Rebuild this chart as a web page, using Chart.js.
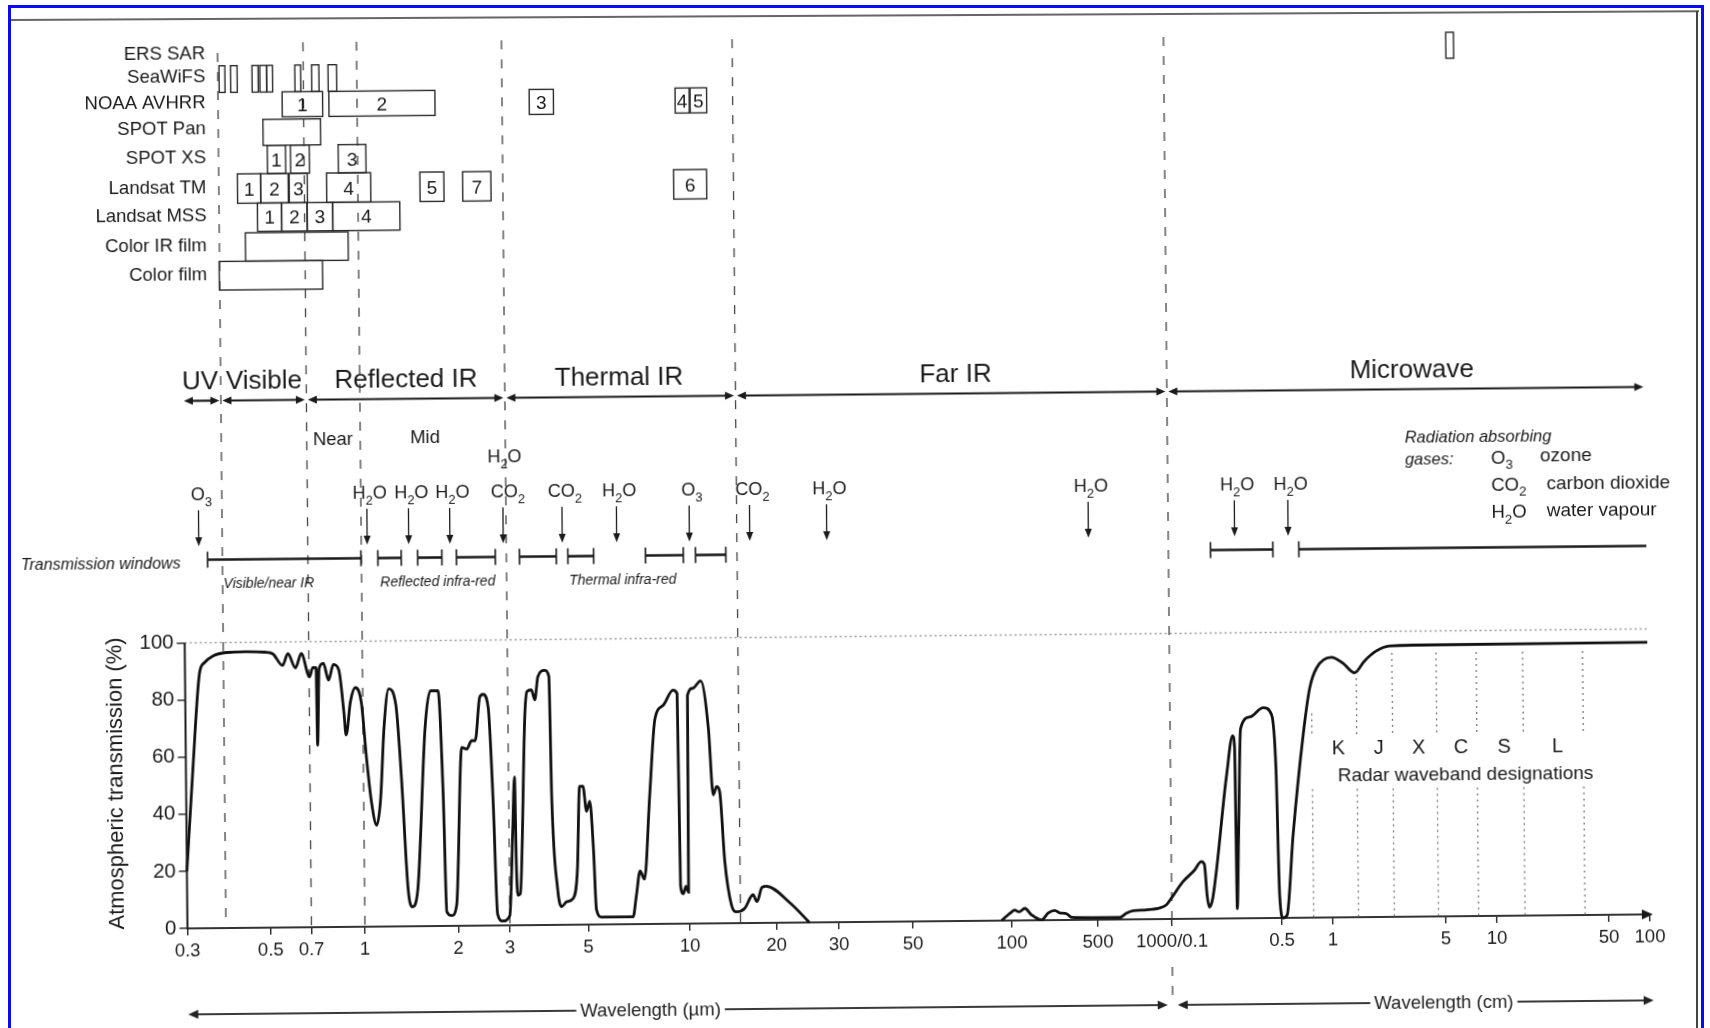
<!DOCTYPE html>
<html><head><meta charset="utf-8">
<script src="https://cdn.jsdelivr.net/npm/chart.js@4.4.1/dist/chart.umd.min.js"></script>
<style>
html,body{margin:0;padding:0;background:#fff;overflow:hidden;width:1710px;height:1028px;}
#wrap{position:absolute;left:0;top:0;width:1710px;height:1028px;transform:rotate(-0.55deg);transform-origin:855px 514px;}
#c{display:block;width:1710px;height:1028px;}
#frame{position:absolute;left:8px;top:5px;width:1690px;height:1100px;border:3px solid #0a0aef;}
#edgeTop{position:absolute;left:11px;top:19px;width:1688px;height:2px;background:#666;transform:rotate(-0.3deg);transform-origin:0 0;}
#edgeRight{position:absolute;left:1696px;top:11px;width:2px;height:1020px;background:#444;}
</style></head>
<body>
<div id="wrap"><canvas id="c" width="1710" height="1028"></canvas></div>
<div id="edgeTop"></div><div id="edgeRight"></div>
<div id="frame"></div>
<script>
// ---------- axis definition (wavelength in micrometres) ----------
const TICK_WL = [0.3,0.5,0.7,1,2,3,5,10,20,30,50,100,500,1000,5000,10000,50000,100000,500000,1000000];
const TICK_LABELS = ["0.3","0.5","0.7","1","2","3","5","10","20","30","50","100","500","1000/0.1","0.5","1","5","10","50","100"];
const AXIS_STOPS = [0,83.2,124,177.5,271,322.5,401,502.5,589,651.5,725.5,824.5,910.5,984.5,1094.5,1145.5,1258.5,1309.5,1421.5,1462.5];
const Y_TICKS = [0,20,40,60,80,100];

// ---------- atmospheric transmission curve ----------
const TRANS_WL = [0.300,0.313,0.328,0.338,0.356,0.387,0.438,0.490,0.520,0.563,0.589,0.626,0.658,0.702,0.718,0.734,0.738,0.749,0.771,0.797,0.824,0.854,0.881,0.893,0.921,0.952,0.991,
1.022,1.059,1.099,1.134,1.168,1.213,1.277,1.325,1.381,1.424,1.485,1.584,1.652,1.748,1.803,1.837,1.906,1.978,
2.080,2.164,2.251,2.314,2.406,2.470,2.569,2.655,2.725,2.835,3.000,
3.073,3.119,3.140,3.167,3.216,3.351,3.401,3.500,3.576,3.654,3.817,3.925,3.969,4.100,4.208,4.347,4.541,4.670,4.762,4.865,4.974,
5.086,5.202,5.288,5.471,6.790,6.949,7.141,7.355,7.662,7.983,8.448,9.045,9.300,9.404,9.579,9.756,9.930,9.980,
10.41,11.10,11.77,12.17,12.52,12.82,13.29,13.97,14.54,15.54,16.61,17.15,17.85,18.49,21.83,24.78,
50,
93.0,98.6,105.8,114.6,127.6,144.6,174.3,197.3,223.6,245.5,278.4,305.7,614.4,654.2,696,789,893.7,951.5,997,
1180,1400,1551,1621,1681,1731,1822,2269,2496,2562,2608,2685,2805,3224,3916,4428,4681,4856,5089,5374,5886,6835,7517,8269,10143,11948,14075,16231,19256,23171,34040,1000000];
const TRANS_PCT = [20,55.5,89.4,93,95.3,96.5,96.7,96.5,95.9,91.8,95.9,90.9,95.9,87.7,90.9,90.9,63.7,90.6,92.4,86.5,92,90,75.3,67.2,78.9,83.8,78.3,
60.1,43.7,35.5,44.9,69.5,83.2,77.7,51.9,13.2,6.8,13.2,69.5,82.4,82.4,46.1,5,3.6,7.4,
62.5,61.9,64.8,64.8,80,81,76.5,42.6,4,1.5,3.4,
33,52,21.6,10.5,11,74.2,81.8,82.4,78.9,87,89.2,87,45,12.8,6.4,8.1,9.3,19.2,48.5,48.5,39.7,
43.2,26.2,5.2,2.6,2.6,9.9,18.6,15.7,45,71.9,76.5,81.8,80.6,13.4,10.5,13.1,11,80,
82.4,85,68.3,45,47.9,46.1,21.6,6.4,4,5.2,9.9,7.5,12.4,12.8,7,0,
null,
0,2.5,3.6,3,4.2,1.9,0.1,2.5,3.4,2.5,2.2,0.9,0.7,2.2,3,3.3,3.9,5,7.3,
13,17,20,19,8,4,7,50,64,60,3.4,29,66.4,70.5,73.7,71.1,52.4,8,0,1,29,64,80.4,87.4,91.1,89,85.6,89.7,93.2,94.9,95.1,95.3];

// ---------- sensor bands [from, to, label] in micrometres ----------
const SENSOR_NAMES = ["ERS SAR","SeaWiFS","NOAA AVHRR","SPOT Pan","SPOT XS","Landsat TM","Landsat MSS","Color IR film","Color film"];
const ERS_SAR = [[55970,62140,""]];
const SEAWIFS = [[0.383,0.397,""],[0.411,0.428,""],[0.469,0.487,""],[0.492,0.517,""],[0.517,0.543,""],[0.653,0.685,""],[0.740,0.777,""],[0.826,0.874,""]];
const NOAA_AVHRR = [[0.587,0.795,"1"],[0.829,1.782,"2"],[3.581,4.192,"3"],[9.54,10.59,"4"],[10.67,12.18,"5"]];
const SPOT_PAN = [[0.50,0.783,""]];
const SPOT_XS = [[0.517,0.601,"1"],[0.626,0.725,"2"],[0.879,1.064,"3"]];
const LANDSAT_TM = [[0.426,0.491,"1"],[0.491,0.613,"2"],[0.618,0.714,"3"],[0.812,1.100,"4"],[1.585,1.893,"5"],[2.186,2.732,"7"],[9.39,12.10,"6"]];
const LANDSAT_MSS = [[0.481,0.579,"1"],[0.579,0.712,"2"],[0.712,0.844,"3"],[0.844,1.363,"4"]];
const COLOR_IR_FILM = [[0.446,0.934,""]];
const COLOR_FILM = [[0.379,0.786,""]];

// ---------- spectral regions ----------
const REGION_NAMES = ["UV","Visible","Reflected IR","Thermal IR","Far IR","Microwave"];
const REGION_FROM = [0.3,0.38,0.7,3,15,1000];
const REGION_TO = [0.38,0.7,3,15,1000,1000000];
const DIVIDERS = [0.38,0.7,1.0,3,15,1000];

// ---------- absorbing gases ----------
const GAS_LABELS = ["O3","H2O","H2O","H2O","H2O+CO2","CO2","H2O","O3","CO2","H2O","H2O","H2O","H2O"];
const GAS_WL = [0.329,1.045,1.422,1.930,2.93,4.32,6.22,10.26,16.64,28.4,448.6,2642,5720];

// ---------- transmission windows ----------
const WINDOW_FROM = [0.347,1.130,1.518,2.025,3.267,4.476,7.564,10.76,1854,6606];
const WINDOW_TO = [0.997,1.343,1.816,2.749,4.151,5.309,9.792,13.72,4614,1000000];
const WINDOW_GROUPS = ["Visible/near IR","Reflected infra-red","Thermal infra-red"];

// ---------- radar bands ----------
const RADAR_BANDS = ["K","J","X","C","S","L"];
const RADAR_EDGES = [7700,14400,24000,45000,78000,150000,355000];

// ---------- layout (canvas pixels, styles) ----------
const FONT = '"Liberation Sans", Arial, Helvetica, sans-serif';
const INK = '#1a1a1a';
const L = {
  rowTop:[38,59.7,86.4,113.7,139.7,168,197.4,227,255.4],
  rowBot:[64,86.4,111.4,139.7,168,197.4,225.7,255.4,284],
  sensorLabelY:[46.7,69.4,95.1,121.1,150.7,180.1,208.4,238.4,267.4],
  sensorLabelX:209.5,
  regionLabelY:374, regionArrowY:394.5, regionLabelShift:[-1.5,0.5,0.5,-1,4.5,6],
  dividerTop:[47,37,37,37,38,40],
  gasLabelY:488, gasUpperY:453, gasArrowTop:504, gasArrowTip:540,
  winY:553.5, winLabelY:577.3, winLabelX:[268.2,437.1,622.1],
  radarTop:[71.5,83.7,92.5,92.5,92.5,92.5,92.5], radarGapHi:63.7, radarGapLo:45,
  bottomArrowY:1008
};

function pos(w){
  const n = TICK_WL.length;
  if (w <= TICK_WL[0]) return AXIS_STOPS[0];
  for (let i=0;i<n-1;i++){
    if (w <= TICK_WL[i+1]){
      const f = Math.log(w/TICK_WL[i])/Math.log(TICK_WL[i+1]/TICK_WL[i]);
      return AXIS_STOPS[i] + f*(AXIS_STOPS[i+1]-AXIS_STOPS[i]);
    }
  }
  return AXIS_STOPS[n-1];
}

function seg(ctx,x1,y1,x2,y2){ctx.beginPath();ctx.moveTo(x1,y1);ctx.lineTo(x2,y2);ctx.stroke();}
function head(ctx,x,y,dir,len,half){
  ctx.beginPath();
  if(dir==='r'){ctx.moveTo(x,y);ctx.lineTo(x-len,y-half);ctx.lineTo(x-len,y+half);}
  else if(dir==='l'){ctx.moveTo(x,y);ctx.lineTo(x+len,y-half);ctx.lineTo(x+len,y+half);}
  else {ctx.moveTo(x,y);ctx.lineTo(x-half,y-len);ctx.lineTo(x+half,y-len);}
  ctx.closePath();ctx.fill();
}
function txt(ctx,s,x,y,size,align,style){
  ctx.font = (style||'') + ' ' + size + 'px ' + FONT;
  ctx.textAlign = align||'center'; ctx.textBaseline='alphabetic';
  ctx.fillText(s,x,y+0.36*size);
}
function chem(ctx,s,x,y,size,align){
  const sub = size*0.72;
  const parts = [...s].map(ch=>({ch, sub:/\d/.test(ch)}));
  let w = 0;
  parts.forEach(p=>{ctx.font=(p.sub?sub:size)+'px '+FONT; p.w=ctx.measureText(p.ch).width; w+=p.w;});
  let cx = align==='left' ? x : x - w/2;
  ctx.textAlign='left'; ctx.textBaseline='alphabetic';
  parts.forEach(p=>{ctx.font=(p.sub?sub:size)+'px '+FONT; ctx.fillText(p.ch,cx,y+0.36*size+(p.sub?size*0.3:0)); cx+=p.w;});
}

const annot = {
  id:'annot',
  beforeDatasetsDraw(chart){
    const ctx = chart.ctx, xs = chart.scales.x, ys = chart.scales.y;
    const X = w => xs.getPixelForValue(pos(w)), Y = v => ys.getPixelForValue(v);
    ctx.save();
    ctx.setLineDash([2,3]); ctx.strokeStyle='#9a9a9a'; ctx.lineWidth=1.5;
    seg(ctx, X(TICK_WL[0]), Y(100), X(TICK_WL[TICK_WL.length-1]), Y(100));
    ctx.setLineDash([9,10]); ctx.strokeStyle='#444'; ctx.lineWidth=1.3;
    DIVIDERS.forEach((w,i)=>seg(ctx, X(w), L.dividerTop[i], X(w), Y(0)));
    seg(ctx, X(1000), 970, X(1000), 998);
    ctx.setLineDash([2,4]); ctx.strokeStyle='#777'; ctx.lineWidth=1.3;
    RADAR_EDGES.forEach((w,i)=>{
      seg(ctx, X(w), Y(L.radarTop[i]), X(w), Y(L.radarGapHi));
      seg(ctx, X(w), Y(L.radarGapLo), X(w), Y(0));
    });
    ctx.restore();
  },
  afterDatasetsDraw(chart){
    const ctx = chart.ctx, xs = chart.scales.x, ys = chart.scales.y;
    const X = w => xs.getPixelForValue(pos(w)), Y = v => ys.getPixelForValue(v);
    ctx.save();
    ctx.fillStyle=INK; ctx.strokeStyle=INK; ctx.setLineDash([]);
    // y axis line and x axis arrow
    ctx.lineWidth=2; seg(ctx, X(TICK_WL[0]), Y(0)+1, X(TICK_WL[0]), Y(100));
    head(ctx, X(TICK_WL[TICK_WL.length-1])+3, Y(0), 'r', 11, 5);
    // y title
    ctx.save(); ctx.translate(112, Y(51)); ctx.rotate(-Math.PI/2);
    txt(ctx, "Atmospheric transmission (%)", 0, 0, 22, 'center'); ctx.restore();

    // sensors
    const SENSORS = [ERS_SAR,SEAWIFS,NOAA_AVHRR,SPOT_PAN,SPOT_XS,LANDSAT_TM,LANDSAT_MSS,COLOR_IR_FILM,COLOR_FILM];
    SENSORS.forEach((bands,r)=>{
      const t=L.rowTop[r], b=L.rowBot[r];
      txt(ctx, SENSOR_NAMES[r], L.sensorLabelX, L.sensorLabelY[r], 18.5, 'right');
      ctx.lineWidth=1.4; ctx.strokeStyle='#2a2a2a';
      bands.forEach(([lo,hi,lab])=>{
        const x1=X(lo), x2=X(hi);
        ctx.strokeRect(x1, t, x2-x1, b-t);
        if(lab) txt(ctx, lab, (x1+x2)/2, (t+b)/2, 19, 'center');
      });
    });
    ctx.strokeStyle=INK;

    // regions
    REGION_NAMES.forEach((n,i)=>{
      const x1=X(REGION_FROM[i])+1.5, x2=X(REGION_TO[i])-1.5, y=L.regionArrowY;
      ctx.lineWidth=2.2; seg(ctx, x1+5, y, x2-5, y);
      head(ctx, x1, y, 'l', 9, 4); head(ctx, x2, y, 'r', 9, 4);
      txt(ctx, n, (x1+x2)/2 + L.regionLabelShift[i], L.regionLabelY, 26, 'center');
    });
    txt(ctx, "Near", 333.7, 433.3, 18.5, 'center');
    txt(ctx, "Mid", 425.8, 432.6, 18.5, 'center');

    // gases
    ctx.lineWidth=1.3;
    GAS_WL.forEach((w,i)=>{
      const x=X(w);
      seg(ctx, x, L.gasArrowTop, x, L.gasArrowTip-8);
      head(ctx, x, L.gasArrowTip, 'd', 9, 3.5);
      const lab = GAS_LABELS[i].split('+');
      if(lab.length>1){ chem(ctx, lab[0], x+2, L.gasUpperY, 18); chem(ctx, lab[1], x+5, L.gasLabelY, 18); }
      else chem(ctx, lab[0], x+3, L.gasLabelY, 18);
    });
    // legend of gases
    txt(ctx, "Radiation absorbing", 1405.4, 442, 16.5, 'left', 'italic');
    txt(ctx, "gases:", 1405.4, 464.5, 16.5, 'left', 'italic');
    chem(ctx, "O3", 1491.5, 463, 18.5, 'left');
    chem(ctx, "CO2", 1491.5, 490, 18.5, 'left');
    chem(ctx, "H2O", 1491.5, 517.5, 18.5, 'left');
    txt(ctx, "ozone", 1540.5, 461.5, 19, 'left');
    txt(ctx, "carbon dioxide", 1546.8, 489.5, 19, 'left');
    txt(ctx, "water vapour", 1546.8, 516.5, 19, 'left');

    // transmission windows
    txt(ctx, "Transmission windows", 100.3, 556.1, 16, 'center', 'italic');
    WINDOW_FROM.forEach((a,i)=>{
      const x1=X(a), x2=X(WINDOW_TO[i]), y=L.winY;
      ctx.lineWidth=2.6; seg(ctx, x1, y, x2, y);
      ctx.lineWidth=1.6; seg(ctx, x1, y-8, x1, y+8);
      if (WINDOW_TO[i] < 1000000) seg(ctx, x2, y-8, x2, y+8);
    });
    WINDOW_GROUPS.forEach((g,i)=>txt(ctx, g, L.winLabelX[i], L.winLabelY, 14, 'center', 'italic'));

    // radar waveband designations
    RADAR_BANDS.forEach((b,i)=>{
      const xm=(X(RADAR_EDGES[i])+X(RADAR_EDGES[i+1]))/2 + 4;
      txt(ctx, b, xm, Y(59.5), 20, 'center');
    });
    txt(ctx, "Radar waveband designations", 1463, Y(50), 19, 'center');

    // bottom wavelength arrows
    const by=L.bottomArrowY; ctx.lineWidth=2; ctx.strokeStyle='#3a3a3a'; ctx.fillStyle='#222';
    const a1=X(0.3), a2=X(1000)-5, t1=X(7.6);
    ctx.font='18.5px '+FONT;
    let tw=ctx.measureText("Wavelength (µm)").width/2+4;
    seg(ctx, a1+8, by, t1-tw, by); seg(ctx, t1+tw, by, a2-8, by);
    head(ctx, a1, by, 'l', 10, 4.5); head(ctx, a2, by, 'r', 10, 4.5);
    txt(ctx, "Wavelength (µm)", t1, by-0.7, 18.5, 'center');
    const b1=X(1000)+5, b2=X(1000000)+3, t2=X(48000);
    tw=ctx.measureText("Wavelength (cm)").width/2+4;
    seg(ctx, b1+8, by, t2-tw, by); seg(ctx, t2+tw, by, b2-8, by);
    head(ctx, b1, by, 'l', 10, 4.5); head(ctx, b2, by, 'r', 10, 4.5);
    txt(ctx, "Wavelength (cm)", t2, by-0.7, 18.5, 'center');
    ctx.restore();
  }
};

const points = TRANS_WL.map((w,i)=>({x:pos(w), y:TRANS_PCT[i]}));
const tickFont = {family:FONT, size:18.5};

new Chart(document.getElementById('c').getContext('2d'), {
  type:'line',
  data:{datasets:[{data:points, borderColor:'#111', borderWidth:2.8, pointRadius:0, fill:false,
    cubicInterpolationMode:'monotone', spanGaps:false, clip:false}]},
  options:{
    responsive:false, animation:false, devicePixelRatio:1,
    layout:{padding:{top:25,right:64,bottom:0,left:0}},
    plugins:{legend:{display:false}, tooltip:{enabled:false}},
    scales:{
      x:{type:'linear', min:0, max:AXIS_STOPS[AXIS_STOPS.length-1],
        afterBuildTicks:s=>{s.ticks = AXIS_STOPS.map(v=>({value:v}));},
        afterFit:s=>{s.height=106;},
        ticks:{autoSkip:false, maxRotation:0, minRotation:0, padding:5, color:'#1a1a1a', font:tickFont,
          callback:(v,i)=>TICK_LABELS[i]},
        grid:{display:true, drawOnChartArea:false, drawTicks:true, tickLength:7, color:'#333', lineWidth:1.5},
        border:{display:true, color:'#333', width:2}},
      y:{type:'linear', min:0, max:(922-25)/2.855,
        afterBuildTicks:s=>{s.ticks = Y_TICKS.map(v=>({value:v}));},
        afterFit:s=>{s.width=183.5;},
        ticks:{padding:3, color:'#1a1a1a', font:{family:FONT, size:20.5}},
        grid:{display:true, drawOnChartArea:false, drawTicks:true, tickLength:8, color:'#333', lineWidth:1.5},
        border:{display:false}}
    }
  },
  plugins:[annot]
});
</script>
</body></html>
